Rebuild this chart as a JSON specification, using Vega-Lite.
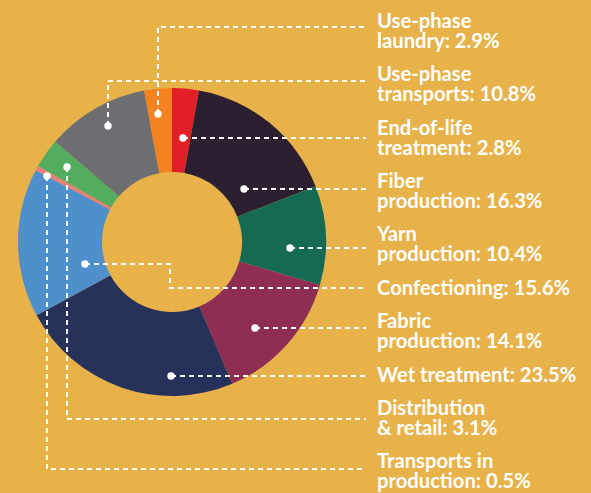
{
  "$schema": "https://vega.github.io/schema/vega-lite/v6.json",
  "width": 591,
  "height": 493,
  "autosize": "none",
  "padding": 0,
  "background": "#E8B24A",
  "config": {"view": {"stroke": null}},
  "datasets": {
    "segments": [
      {"name": "End-of-life treatment", "value": 2.8, "order": 1},
      {"name": "Fiber production", "value": 16.3, "order": 2},
      {"name": "Yarn production", "value": 10.4, "order": 3},
      {"name": "Fabric production", "value": 14.1, "order": 4},
      {"name": "Wet treatment", "value": 23.5, "order": 5},
      {"name": "Confectioning", "value": 15.6, "order": 6},
      {"name": "Transports in production", "value": 0.5, "order": 7},
      {"name": "Distribution & retail", "value": 3.1, "order": 8},
      {"name": "Use-phase transports", "value": 10.8, "order": 9},
      {"name": "Use-phase laundry", "value": 2.9, "order": 10}
    ],
    "leaders": [
      {"name": "Use-phase laundry", "i": 0, "px": 158, "py": 114},
      {"name": "Use-phase laundry", "i": 1, "px": 158, "py": 27},
      {"name": "Use-phase laundry", "i": 2, "px": 366, "py": 27},
      {"name": "Use-phase transports", "i": 0, "px": 108, "py": 126},
      {"name": "Use-phase transports", "i": 1, "px": 108, "py": 81},
      {"name": "Use-phase transports", "i": 2, "px": 366, "py": 81},
      {"name": "End-of-life treatment", "i": 0, "px": 183, "py": 138},
      {"name": "End-of-life treatment", "i": 1, "px": 366, "py": 138},
      {"name": "Fiber production", "i": 0, "px": 244, "py": 189},
      {"name": "Fiber production", "i": 1, "px": 366, "py": 189},
      {"name": "Yarn production", "i": 0, "px": 290, "py": 248},
      {"name": "Yarn production", "i": 1, "px": 366, "py": 248},
      {"name": "Confectioning", "i": 0, "px": 85, "py": 264},
      {"name": "Confectioning", "i": 1, "px": 170, "py": 264},
      {"name": "Confectioning", "i": 2, "px": 170, "py": 288},
      {"name": "Confectioning", "i": 3, "px": 366, "py": 288},
      {"name": "Fabric production", "i": 0, "px": 255, "py": 328},
      {"name": "Fabric production", "i": 1, "px": 366, "py": 328},
      {"name": "Wet treatment", "i": 0, "px": 171, "py": 376},
      {"name": "Wet treatment", "i": 1, "px": 366, "py": 376},
      {"name": "Distribution & retail", "i": 0, "px": 67, "py": 167},
      {"name": "Distribution & retail", "i": 1, "px": 67, "py": 419},
      {"name": "Distribution & retail", "i": 2, "px": 366, "py": 419},
      {"name": "Transports in production", "i": 0, "px": 47, "py": 176},
      {"name": "Transports in production", "i": 1, "px": 47, "py": 469},
      {"name": "Transports in production", "i": 2, "px": 366, "py": 469}
    ],
    "labels": [
      {"label": "Use-phase\nlaundry: 2.9%", "py": 27.5},
      {"label": "Use-phase\ntransports: 10.8%", "py": 81},
      {"label": "End-of-life\ntreatment: 2.8%", "py": 134.5},
      {"label": "Fiber\nproduction: 16.3%", "py": 188},
      {"label": "Yarn\nproduction: 10.4%", "py": 241},
      {"label": "Confectioning: 15.6%", "py": 295},
      {"label": "Fabric\nproduction: 14.1%", "py": 328},
      {"label": "Wet treatment: 23.5%", "py": 382},
      {"label": "Distribution\n& retail: 3.1%", "py": 415},
      {"label": "Transports in\nproduction: 0.5%", "py": 468}
    ]
  },
  "layer": [
    {
      "data": {"name": "segments"},
      "mark": {"type": "arc", "innerRadius": 70, "outerRadius": 154},
      "encoding": {
        "x": {"datum": 172, "type": "quantitative", "scale": {"domain": [0, 591], "range": [0, 591], "nice": false, "zero": false}, "axis": null},
        "y": {"datum": 242, "type": "quantitative", "scale": {"domain": [0, 493], "range": [0, 493], "nice": false, "zero": false}, "axis": null},
        "theta": {"field": "value", "type": "quantitative", "stack": true},
        "order": {"field": "order", "type": "quantitative"},
        "color": {
          "field": "name",
          "type": "nominal",
          "legend": null,
          "scale": {
            "domain": ["End-of-life treatment", "Fiber production", "Yarn production", "Fabric production", "Wet treatment", "Confectioning", "Transports in production", "Distribution & retail", "Use-phase transports", "Use-phase laundry"],
            "range": ["#E01F27", "#2C1F2F", "#156A53", "#8E2E55", "#27325B", "#4F8FCB", "#EC7F7A", "#52AD5E", "#6D6E72", "#F58220"]
          }
        }
      }
    },
    {
      "data": {"name": "leaders"},
      "mark": {"type": "line", "color": "white", "strokeWidth": 2, "strokeDash": [5, 4]},
      "encoding": {
        "x": {"field": "px", "type": "quantitative"},
        "y": {"field": "py", "type": "quantitative"},
        "detail": {"field": "name"},
        "order": {"field": "i", "type": "quantitative"}
      }
    },
    {
      "data": {"name": "leaders"},
      "transform": [{"filter": "datum.i == 0"}],
      "mark": {"type": "point", "filled": true, "color": "white", "opacity": 1, "size": 55},
      "encoding": {
        "x": {"field": "px", "type": "quantitative"},
        "y": {"field": "py", "type": "quantitative"}
      }
    },
    {
      "data": {"name": "labels"},
      "mark": {"type": "text", "align": "left", "baseline": "alphabetic", "lineBreak": "\n", "lineHeight": 20.2, "font": "Lato", "fontWeight": "bold", "fontSize": 20.2, "color": "white"},
      "encoding": {
        "x": {"datum": 377, "type": "quantitative"},
        "y": {"field": "py", "type": "quantitative"},
        "text": {"field": "label"}
      }
    }
  ]
}
